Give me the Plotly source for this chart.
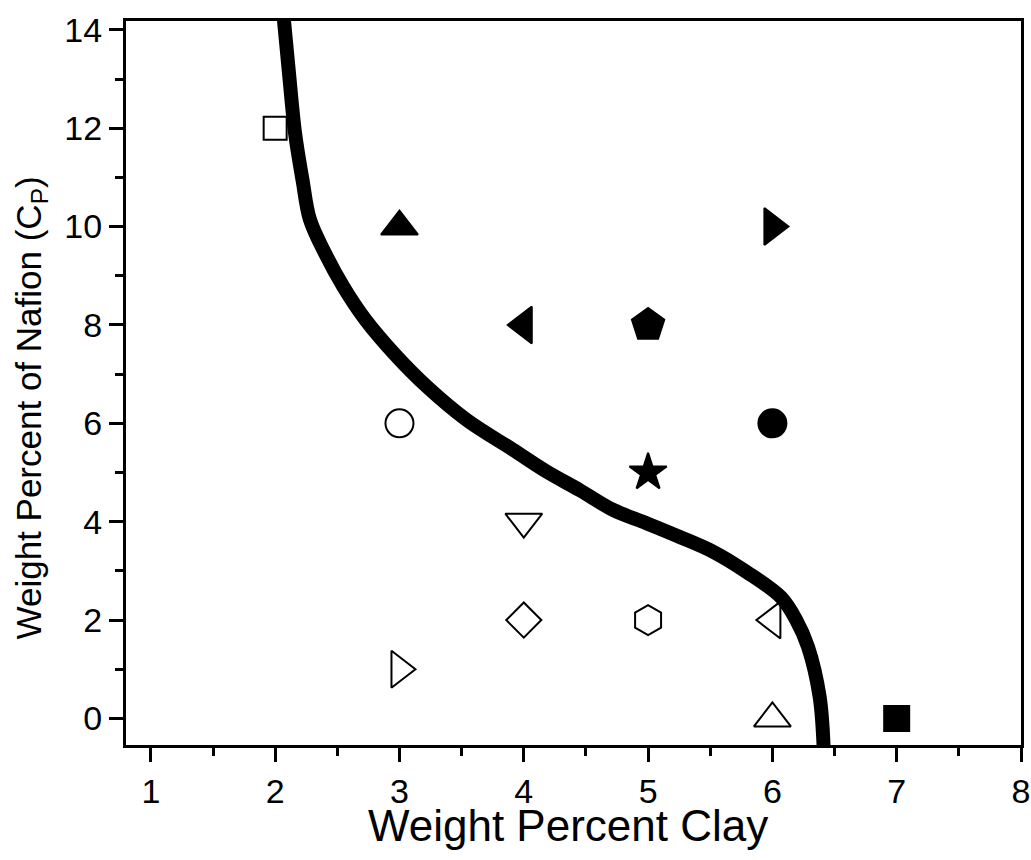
import plotly.graph_objects as go

# Data points (Weight Percent Clay, Weight Percent Nafion)
pt_x = [2, 3, 6, 4, 5, 3, 6, 5, 4, 4, 5, 6, 3, 6, 7]
pt_y = [12, 10, 10, 8, 8, 6, 6, 5, 4, 2, 2, 2, 1, 0, 0]
pt_symbol = ["square-open", "triangle-up", "triangle-right", "triangle-left", "pentagon",
             "circle-open", "circle", "star", "triangle-down-open", "diamond-open",
             "hexagon-open", "triangle-left-open", "triangle-right-open", "triangle-up-open", "square"]
pt_size = [23, 32, 32, 32, 34, 28, 28, 28, 32, 27, 30, 32, 32, 32, 25]

# Boundary curve
curve_x = [2.063, 2.11, 2.16, 2.22, 2.28, 2.401, 2.548, 2.728, 2.956, 3.223, 3.540,
           3.915, 4.183, 4.451, 4.719, 4.987, 5.255, 5.523, 5.791, 6.07, 6.19,
           6.286, 6.380, 6.412]
curve_y = [14.40, 13.15, 11.90, 10.95, 10.14, 9.46, 8.78, 8.10, 7.42, 6.74, 6.07,
           5.46, 5.02, 4.64, 4.24, 3.97, 3.69, 3.39, 2.98, 2.46, 2.01,
           1.46, 0.44, -0.58]

x_ticks = [1, 2, 3, 4, 5, 6, 7, 8]
y_ticks = [0, 2, 4, 6, 8, 10, 12, 14]

FONT = "Liberation Sans, Arial, sans-serif"

fig = go.Figure()
fig.add_trace(go.Scatter(
    x=curve_x, y=curve_y, mode="lines",
    line=dict(color="black", width=14, shape="spline", smoothing=1.0),
    cliponaxis=False, showlegend=False, hoverinfo="skip"))
fig.add_trace(go.Scatter(
    x=pt_x, y=pt_y, mode="markers",
    marker=dict(symbol=pt_symbol, size=pt_size, color="black", opacity=1,
                line=dict(color="black", width=2)),
    cliponaxis=False, showlegend=False))

fig.update_layout(
    width=1031, height=860,
    margin=dict(l=126, r=10, t=21, b=115),
    paper_bgcolor="white", plot_bgcolor="white",
    font=dict(family=FONT, color="black", size=34),
    showlegend=False,
    xaxis=dict(range=[0.8, 8.0], tickvals=x_ticks, ticktext=[str(v) for v in x_ticks],
               automargin=False,
               ticks="outside", ticklen=14, tickwidth=3, tickcolor="black",
               showline=True, linewidth=3, linecolor="black", mirror=True,
               showgrid=False, zeroline=False, tickfont=dict(size=34),
               minor=dict(dtick=0.5, tick0=0, ticks="outside", ticklen=8, tickwidth=3,
                          tickcolor="black", showgrid=False)),
    yaxis=dict(range=[-0.54, 14.18], tickvals=y_ticks, ticktext=[str(v) for v in y_ticks],
               automargin=False,
               ticks="outside", ticklen=14, tickwidth=3, tickcolor="black",
               showline=True, linewidth=3, linecolor="black", mirror=True,
               showgrid=False, zeroline=False, tickfont=dict(size=34),
               minor=dict(dtick=1, tick0=0, ticks="outside", ticklen=8, tickwidth=3,
                          tickcolor="black", showgrid=False)),
    annotations=[
        dict(text="Weight Percent Clay", xref="paper", yref="paper",
             x=0.4944, y=-0.111, xanchor="center", yanchor="middle",
             showarrow=False, font=dict(size=44, family=FONT)),
        dict(text="Weight Percent of Nafion (C<sub>P</sub>)", xref="paper", yref="paper",
             x=-0.106, y=0.465, xanchor="center", yanchor="middle", textangle=-90,
             showarrow=False, font=dict(size=35, family=FONT)),
    ],
)

fig.write_html("out.html", config={"displayModeBar": False},
               post_script="document.body.style.margin='0';document.body.style.overflow='hidden';")
